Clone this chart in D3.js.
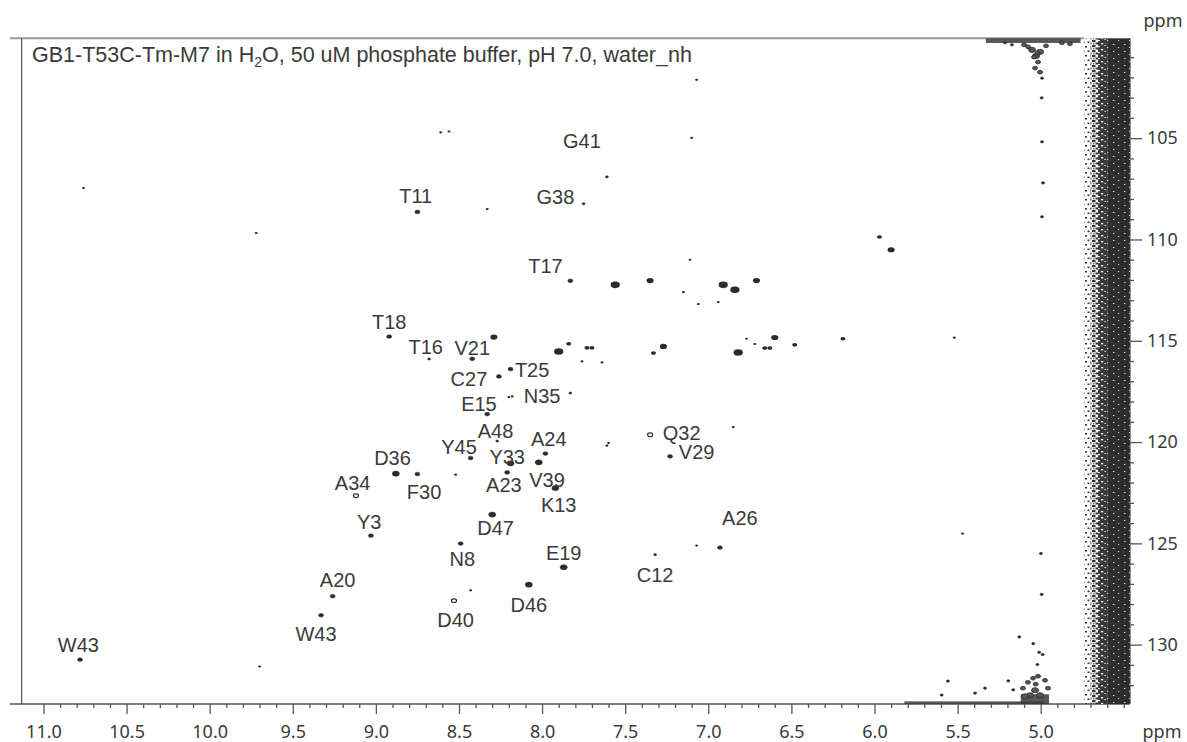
<!DOCTYPE html>
<html>
<head>
<meta charset="utf-8">
<script src="https://d3js.org/d3.v7.min.js"></script>
<style>
  body { margin: 0; background: white; }
  .ticklab { font-family: "Noto Sans", sans-serif; font-size: 18px; fill: #3a3a3a; }
  .peaklab { font-family: "Liberation Sans", Arial, sans-serif; font-size: 20px; fill: #3a3a3a; }
</style>
</head>
<body>
<div id="spectrum"></div>
<script>
// assigned backbone peaks (1H ppm, 15N ppm, contour level 1..4)
let assignedName = ["G41","G38","T11","T17","T18","T16","V21","T25","C27","N35","E15","A48","Y45","A24",
  "Y33","D36","V39","A34","F30","A23","K13","A26","Y3","D47","E19","N8","C12","A20","D46","D40","W43","W43","Q32","V29"];
let assignedH = [7.61,7.75,8.75,7.83,8.92,8.68,8.42,8.19,8.26,7.83,8.33,8.27,8.43,7.98,
  8.19,8.88,8.02,9.12,8.75,8.21,7.92,6.93,9.03,8.30,7.87,8.49,7.32,9.26,8.08,8.53,9.33,10.78,7.35,7.23];
let assignedN = [106.91,108.24,108.64,112.04,114.79,115.90,115.89,116.40,116.76,117.58,118.62,119.95,120.79,120.57,
  121.05,121.56,121.00,122.65,121.58,121.50,122.27,125.21,124.62,123.58,126.18,125.01,125.56,127.61,127.04,127.83,128.55,130.74,119.64,120.71];
let assignedLevel = [1,1,2,2,2,1,2,2,2,1,2,1,2,2,
  3,3,3,2,2,2,3,2,2,3,3,2,1,2,3,2,2,2,2,2];
let openPeaks = ["A34","D40","Q32"];

// where the label text sits (centre, in ppm)
let labelH = [7.76,7.92,8.76,7.98,8.92,8.70,8.42,8.06,8.44,8.00,8.38,8.28,8.50,7.96,
  8.21,8.90,7.97,9.14,8.71,8.23,7.90,6.81,9.04,8.28,7.87,8.48,7.32,9.23,8.08,8.52,9.36,10.79,7.16,7.07];
let labelN = [105.13,107.90,107.85,111.31,114.06,115.31,115.36,116.43,116.89,117.71,118.11,119.43,120.21,119.83,
  120.71,120.79,121.86,122.02,122.46,122.10,123.09,123.73,123.96,124.24,125.47,125.77,126.54,126.79,128.02,128.76,129.45,129.99,119.52,120.48];

// unassigned / side-chain peaks
let otherH = [7.90,7.84,7.73,7.70,7.76,7.64,7.61,8.29,8.20,8.18,
  5.97,5.90,7.11,7.56,7.35,6.91,6.84,6.71,7.15,7.06,6.94,6.77,6.60,6.72,6.82,6.66,6.63,6.48,6.19,7.27,7.33,7.60,6.85,
  8.61,8.56,10.76,7.07,7.10,9.72,8.33,8.43,8.52,9.70,7.07,5.47,5.52];
let otherN = [115.53,115.15,115.35,115.35,116.02,116.07,120.18,114.82,117.78,117.75,
  109.88,110.51,111.00,112.24,112.03,112.24,112.48,112.03,112.60,113.19,113.09,114.90,114.84,115.16,115.58,115.36,115.36,115.20,114.90,115.28,115.61,120.05,119.26,
  104.71,104.67,107.46,102.12,104.99,109.68,108.50,127.32,121.61,131.08,125.11,124.52,114.85];
let otherLevel = [4,2,2,2,1,1,1,3,1,1,
  2,3,1,4,3,4,4,3,1,1,1,1,3,1,4,2,2,2,2,3,2,1,1,
  1,1,1,1,1,1,1,1,1,1,1,1,1];

// water artefacts near 5 ppm
let waterH = [5.052,5.028,5.004,5.016,5.034,5.004,4.992,5.076,4.968,5.100,4.872,4.824,5.215,5.173,5.040,5.020,
  4.994,4.992,4.986,4.992,
  5.107,5.077,5.046,5.016,4.974,4.956,5.034,5.004,5.064,5.095,5.030,
  4.999,4.994,5.129,5.045,5.009,4.988,5.020,5.195,5.165,5.558,5.596,5.395,5.335];
let waterN = [100.64,100.94,100.74,101.24,101.54,101.74,102.04,100.49,100.44,100.39,100.29,100.34,100.29,100.39,101.00,100.80,
  103.01,105.18,107.21,108.88,
  132.15,131.86,131.66,131.56,131.76,132.15,132.25,132.50,132.50,132.55,131.95,
  125.50,127.52,129.62,129.95,130.38,130.49,130.98,131.79,132.23,131.80,132.49,132.39,132.15];
let waterLevel = [3,3,3,2,2,2,1,2,2,2,2,2,1,1,2,2,
  1,1,1,1,
  2,2,2,2,2,2,3,3,3,3,2,
  1,1,1,1,1,1,1,1,1,1,1,1,1];
// streaks of water along top and bottom edge [H from, H to, N from, N to]
let waterStreaks = [[5.33,4.76,100.07,100.30],[5.82,4.98,132.80,132.93],[5.12,4.95,132.45,132.93]];

// t1 noise column of the water line
let noiseBandH = [[4.74,4.70],[4.70,4.655],[4.655,4.60],[4.60,4.4627]];
let noiseBandKind = ["nz1","nz2","nz3","nz4"];

let xMajor = [11.0,10.5,10.0,9.5,9.0,8.5,8.0,7.5,7.0,6.5,6.0,5.5,5.0];
let yMajor = [105,110,115,120,125,130];

function addPattern(defs, id, w, h, bg, marks){
  let p = defs.append("pattern").attr("id", id)
      .attr("patternUnits", "userSpaceOnUse").attr("width", w).attr("height", h);
  if (bg) { p.append("rect").attr("width", w).attr("height", h).attr("fill", bg); }
  marks.forEach(function(m){
    p.append("rect").attr("x", m[0]).attr("y", m[1]).attr("width", m[2]).attr("height", m[3])
      .attr("fill", m[4]);
  });
}

function draw(){
  let W = 1187, H = 742;
  let left = 21.7, right = 1130, top = 38.3, bottom = 704;

  let x = d3.scaleLinear().domain([11.131, 4.4627]).range([left, right]);
  let y = d3.scaleLinear().domain([100.07, 132.93]).range([top, bottom]);

  let svg = d3.select("#spectrum").append("svg")
      .attr("width", W)
      .attr("height", H)
      .style("display", "block");

  svg.append("rect").attr("width", W).attr("height", H).attr("fill", "white");

  // patterns for the noise column, from sparse to dense
  let defs = svg.append("defs");
  addPattern(defs, "nz1", 5, 9, null, [[0,1,2,1.6,"#333"],[2.5,5.5,2,1.6,"#3a3a3a"]]);
  addPattern(defs, "nz2", 7, 5, null, [[0,0,3.5,2.2,"#333"],[3.5,2.5,3,2,"#333"],[1,3.2,1.5,1.2,"#444"]]);
  addPattern(defs, "nz3", 9, 6, "#3a3a3a", [[3,1,2.2,1.4,"white"],[0,4,1.8,1.2,"white"],[6.5,3,1.4,1,"#eee"]]);
  addPattern(defs, "nz4", 11, 7, "#2e2e2e", [[2,2,1.4,1,"#ddd"],[7,5,1.2,1,"#ccc"]]);

  // frame
  svg.append("line").attr("x1", 10).attr("x2", x(4.74)).attr("y1", top).attr("y2", top)
      .attr("stroke", "#9a9a9a").attr("stroke-width", 2);
  svg.append("line").attr("x1", left).attr("x2", left).attr("y1", top).attr("y2", bottom)
      .attr("stroke", "#333").attr("stroke-width", 1);
  svg.append("line").attr("x1", 10).attr("x2", right).attr("y1", bottom).attr("y2", bottom)
      .attr("stroke", "#555").attr("stroke-width", 1.4);
  svg.append("line").attr("x1", right).attr("x2", right).attr("y1", top).attr("y2", bottom)
      .attr("stroke", "#333").attr("stroke-width", 1);

  // noise column
  noiseBandH.forEach(function(b, i){
    svg.append("rect")
      .attr("x", x(b[0]))
      .attr("y", y(100.07))
      .attr("width", x(b[1]) - x(b[0]))
      .attr("height", y(132.93) - y(100.07))
      .attr("fill", "url(#" + noiseBandKind[i] + ")");
  });

  // water streaks
  waterStreaks.forEach(function(s){
    svg.append("rect")
      .attr("x", x(s[0])).attr("y", y(s[2]))
      .attr("width", x(s[1]) - x(s[0])).attr("height", y(s[3]) - y(s[2]))
      .attr("fill", "#3a3a3a").attr("opacity", 0.85);
  });

  let rx = d3.scaleLinear().domain([1, 4]).range([1.5, 4.6]);
  let ry = d3.scaleLinear().domain([1, 4]).range([1.1, 3.3]);

  let g = svg.append("g");
  waterH.forEach(function(h, i){
    g.append("ellipse")
      .attr("cx", x(h)).attr("cy", y(waterN[i]))
      .attr("rx", rx(waterLevel[i])).attr("ry", ry(waterLevel[i]))
      .attr("fill", waterLevel[i] > 1 ? "#555" : "#2b2b2b")
      .attr("stroke", "#2b2b2b").attr("stroke-width", 0.8);
  });
  otherH.forEach(function(h, i){
    g.append("ellipse")
      .attr("cx", x(h)).attr("cy", y(otherN[i]))
      .attr("rx", rx(otherLevel[i])).attr("ry", ry(otherLevel[i]))
      .attr("fill", "#2b2b2b");
  });
  assignedH.forEach(function(h, i){
    let open = openPeaks.includes(assignedName[i]);
    g.append("ellipse")
      .attr("cx", x(h)).attr("cy", y(assignedN[i]))
      .attr("rx", rx(assignedLevel[i])).attr("ry", ry(assignedLevel[i]))
      .attr("fill", open ? "white" : "#2b2b2b")
      .attr("stroke", "#2b2b2b").attr("stroke-width", open ? 1.2 : 0.5);
  });

  // labels
  assignedName.forEach(function(n, i){
    svg.append("text").attr("class", "peaklab")
      .attr("x", x(labelH[i])).attr("y", y(labelN[i]))
      .attr("dy", "0.36em")
      .style("text-anchor", "middle")
      .text(n);
  });

  // title
  let title = svg.append("text").attr("class", "peaklab")
      .attr("x", 32).attr("y", 62).style("font-size", "21.5px");
  title.append("tspan").text("GB1-T53C-Tm-M7 in H");
  title.append("tspan").attr("dy", 5).style("font-size", "14px").text("2");
  title.append("tspan").attr("dy", -5).text("O, 50 uM phosphate buffer, pH 7.0, water_nh");

  // x axis
  let xMinor = d3.range(45, 111).map(d => d / 10).filter(d => !xMajor.includes(d));
  let xAxis = svg.append("g").attr("transform", "translate(0," + bottom + ")")
      .call(d3.axisBottom(x).tickValues(xMajor).tickFormat(d3.format(".1f")).tickSize(10).tickPadding(11));
  svg.append("g").attr("transform", "translate(0," + bottom + ")")
      .call(d3.axisBottom(x).tickValues(xMinor).tickFormat("").tickSize(4))
      .select(".domain").remove();
  xAxis.select(".domain").remove();

  // y axis on the right
  let yMinor = d3.range(101, 133).filter(d => !yMajor.includes(d));
  let yAxis = svg.append("g").attr("transform", "translate(" + right + ",0)")
      .call(d3.axisRight(y).tickValues(yMajor).tickSize(12).tickPadding(5));
  svg.append("g").attr("transform", "translate(" + right + ",0)")
      .call(d3.axisRight(y).tickValues(yMinor).tickFormat("").tickSize(4))
      .select(".domain").remove();
  yAxis.select(".domain").remove();

  svg.selectAll(".tick line").attr("stroke", "#555").attr("stroke-width", 1.3);
  svg.selectAll(".tick text").attr("class", "ticklab").attr("fill", null);

  svg.append("text").attr("class", "ticklab").attr("x", 1162).attr("y", 738)
      .style("text-anchor", "middle").text("ppm");
  svg.append("text").attr("class", "ticklab").attr("x", 1163).attr("y", 27)
      .style("text-anchor", "middle").text("ppm");
}

draw();
</script>
</body>
</html>
